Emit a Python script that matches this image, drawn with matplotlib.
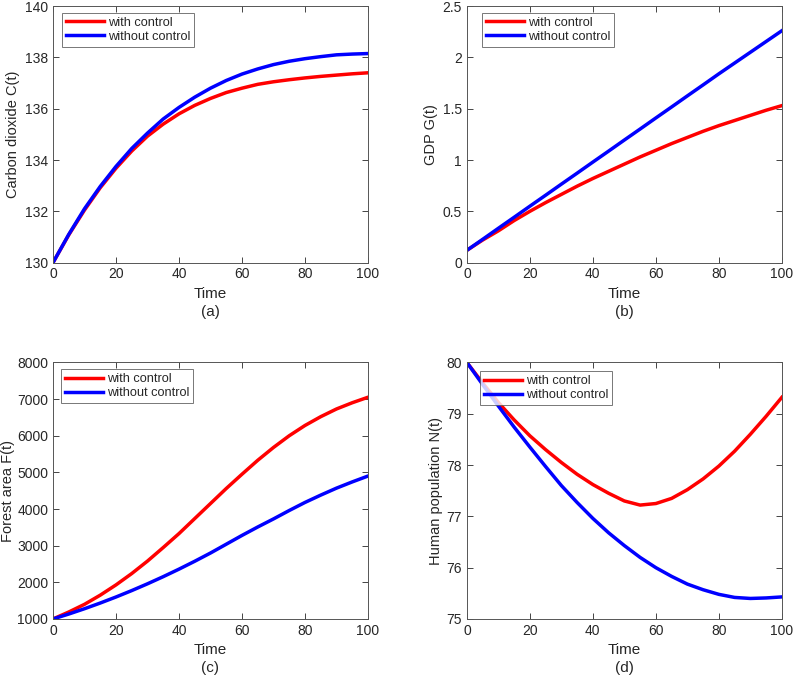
import matplotlib.pyplot as plt
import numpy as np

# Données
t = [0, 5, 10, 15, 20, 25, 30, 35, 40, 45, 50, 55, 60, 65, 70, 75, 80, 85, 90, 95, 100]

co2_with = [130, 131.08, 132.05, 132.92, 133.68, 134.35, 134.93, 135.4, 135.8, 136.13, 136.4,
            136.63, 136.8, 136.95, 137.05, 137.13, 137.2, 137.26, 137.31, 137.36, 137.4]
co2_without = [130, 131.1, 132.1, 132.97, 133.75, 134.45, 135.05, 135.6, 136.05, 136.45, 136.8,
               137.1, 137.35, 137.55, 137.72, 137.85, 137.95, 138.03, 138.1, 138.13, 138.15]

gdp_with = [0.12, 0.22, 0.31, 0.41, 0.5, 0.585, 0.665, 0.745, 0.82, 0.89, 0.96,
            1.03, 1.095, 1.16, 1.22, 1.28, 1.335, 1.385, 1.435, 1.485, 1.53]
gdp_without = [0.12, 0.227, 0.335, 0.442, 0.55, 0.657, 0.765, 0.872, 0.98, 1.087, 1.195,
               1.302, 1.41, 1.517, 1.625, 1.732, 1.84, 1.945, 2.05, 2.155, 2.26]

forest_with = [1000, 1190, 1400, 1650, 1930, 2240, 2580, 2950, 3330, 3740, 4150,
               4560, 4950, 5330, 5680, 6000, 6280, 6520, 6730, 6900, 7050]
forest_without = [1000, 1135, 1280, 1435, 1600, 1775, 1960, 2155, 2360, 2575, 2800,
                  3040, 3280, 3510, 3730, 3960, 4180, 4380, 4570, 4740, 4900]

pop_with = [80, 79.6, 79.22, 78.88, 78.57, 78.3, 78.05, 77.82, 77.62, 77.45, 77.3,
            77.22, 77.25, 77.35, 77.52, 77.73, 77.98, 78.27, 78.6, 78.95, 79.32]
pop_without = [80, 79.57, 79.15, 78.74, 78.35, 77.97, 77.6, 77.27, 76.96, 76.68, 76.43,
               76.2, 76.0, 75.83, 75.68, 75.57, 75.48, 75.42, 75.4, 75.41, 75.43]

panels = [
    (co2_with, co2_without, "Carbon dioxide C(t)", (130, 140), np.arange(130, 141, 2), "(a)"),
    (gdp_with, gdp_without, "GDP G(t)", (0, 2.5), [0, 0.5, 1, 1.5, 2, 2.5], "(b)"),
    (forest_with, forest_without, "Forest area F(t)", (1000, 8000), np.arange(1000, 8001, 1000), "(c)"),
    (pop_with, pop_without, "Human population N(t)", (75, 80), np.arange(75, 81, 1), "(d)"),
]
leg_pos = [(0.029, 0.973), (0.048, 0.973), (0.025, 0.973), (0.041, 0.965)]
ylab_x = [-0.105, -0.092, -0.12, -0.076]

plt.rcParams['font.family'] = ['Liberation Sans', 'DejaVu Sans']
plt.rcParams['font.size'] = 10

txt = '#262626'
edge = '#555555'

fig, axes = plt.subplots(2, 2, figsize=(7.97, 6.77), dpi=100)
plt.subplots_adjust(left=0.0665, right=0.981, top=0.991, bottom=0.0857, wspace=0.314, hspace=0.389)

for i, (ax, (yw, yo, ylab, ylim, yticks, tag)) in enumerate(zip(axes.flat, panels)):
    ax.plot(t, yw, color='red', lw=2.5, label='with control')
    ax.plot(t, yo, color='blue', lw=2.5, label='without control')
    ax.set_xlim(0, 100)
    ax.set_ylim(*ylim)
    ax.set_xticks([0, 20, 40, 60, 80, 100])
    ax.set_yticks(yticks)
    if tag == "(b)":
        ax.set_yticklabels(['0', '0.5', '1', '1.5', '2', '2.5'])
    ax.set_xlabel("Time\n" + tag, color=txt, fontsize=11, linespacing=1.35, labelpad=4)
    ax.set_ylabel(ylab, color=txt, fontsize=10.5)
    ax.yaxis.set_label_coords(ylab_x[i], 0.5)
    ax.tick_params(direction='in', top=True, right=True, colors=txt, labelsize=10,
                   length=4, width=0.6)
    for s in ax.spines.values():
        s.set_color(edge)
        s.set_linewidth(0.7)
    leg = ax.legend(loc='upper left', bbox_to_anchor=leg_pos[i], borderaxespad=0,
                    fancybox=False, edgecolor=edge, fontsize=9.2,
                    handlelength=3.0, handletextpad=0.3, borderpad=0.3, labelspacing=0.15)
    leg.get_frame().set_linewidth(0.7)
    for text in leg.get_texts():
        text.set_color(txt)

plt.savefig("out.png")
